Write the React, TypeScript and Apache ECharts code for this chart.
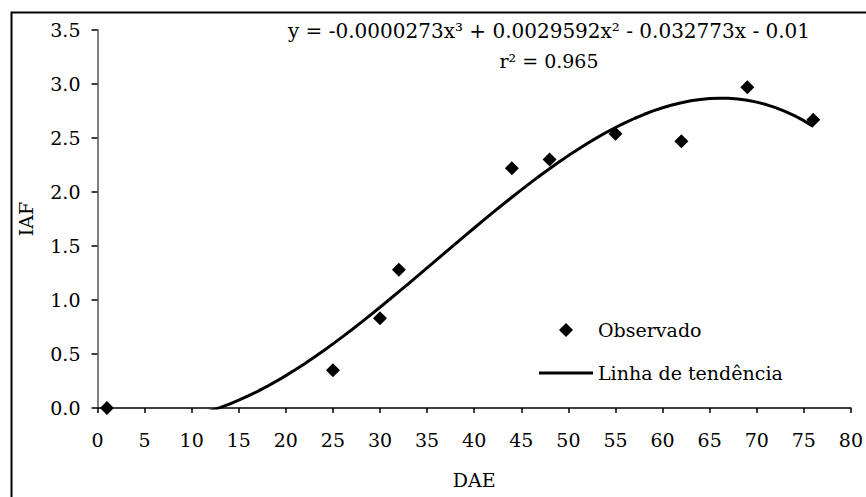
import React, { useEffect, useRef } from "react";
import * as echarts from "echarts";

// Observed leaf area index (IAF) by days after emergence (DAE)
const observedDae = [1, 25, 30, 32, 44, 48, 55, 62, 69, 76];
const observedIaf = [0.0, 0.35, 0.83, 1.28, 2.22, 2.3, 2.54, 2.47, 2.97, 2.67];

// Cubic trend coefficients, highest power first (x³, x², x, constant)
const trendCoefficients = [-0.0000273, 0.0029592, -0.032773, -0.01];
const trendR2 = 0.965;
const trendStart = 1;
const trendEnd = 76;

const xTicks = { min: 0, max: 80, interval: 5 };
const yTicks = { min: 0, max: 3.5, interval: 0.5 };

const FONT = "DejaVu Serif";

function evalTrend(x: number): number {
  return trendCoefficients.reduce((acc, c) => acc * x + c, 0);
}

function trendLabel(): string {
  const powers = ["x³", "x²", "x", ""];
  let s = "y = ";
  trendCoefficients.forEach((c, i) => {
    const abs = String(Math.abs(c));
    if (i === 0) s += (c < 0 ? "-" : "") + abs + powers[i];
    else s += (c < 0 ? " - " : " + ") + abs + powers[i];
  });
  return s;
}

export default function App() {
  const ref = useRef<HTMLDivElement>(null);

  useEffect(() => {
    if (!ref.current) return;
    const chart = echarts.init(ref.current, undefined, { renderer: "svg" });

    const trendData: number[][] = [];
    for (let x = trendStart; x <= trendEnd; x++) trendData.push([x, evalTrend(x)]);

    chart.setOption({
      animation: false,
      backgroundColor: "#ffffff",
      textStyle: { fontFamily: FONT, color: "#000" },
      grid: { left: 97.5, right: 14, top: 30, bottom: 89, containLabel: false },
      xAxis: {
        type: "value",
        min: xTicks.min,
        max: xTicks.max,
        interval: xTicks.interval,
        name: "DAE",
        nameLocation: "middle",
        nameGap: 62,
        nameTextStyle: { fontFamily: FONT, fontSize: 19, color: "#000" },
        axisLine: { show: true, onZero: false, lineStyle: { color: "#000", width: 1.5 } },
        axisTick: { show: true, inside: false, length: 5, lineStyle: { color: "#000", width: 1.5 } },
        axisLabel: { fontFamily: FONT, fontSize: 19, color: "#000", margin: 22, lineHeight: 19 },
        splitLine: { show: false },
      },
      yAxis: {
        type: "value",
        min: yTicks.min,
        max: yTicks.max,
        interval: yTicks.interval,
        name: "IAF",
        nameLocation: "middle",
        nameGap: 62,
        nameTextStyle: { fontFamily: FONT, fontSize: 19, color: "#000" },
        axisLine: { show: true, lineStyle: { color: "#808080", width: 2 } },
        axisTick: { show: true, inside: false, length: 6, lineStyle: { color: "#000", width: 1.5 } },
        axisLabel: {
          fontFamily: FONT,
          fontSize: 19,
          color: "#000",
          margin: 17,
          formatter: (v: number) => v.toFixed(1),
        },
        splitLine: { show: false },
      },
      legend: [
        {
          data: [{ name: "Observado", icon: "diamond" }],
          orient: "vertical",
          left: 559,
          top: 320,
          padding: 0,
          itemWidth: 14,
          itemHeight: 14,
          selectedMode: false,
          itemStyle: { color: "#000", opacity: 1 },
          textStyle: {
            fontFamily: FONT,
            fontSize: 19,
            color: "#000",
            lineHeight: 20,
            padding: [0, 0, 0, 20],
          },
        },
        {
          data: [{ name: "Linha de tendência", icon: "rect" }],
          orient: "vertical",
          left: 539,
          top: 363,
          padding: 0,
          itemWidth: 54,
          itemHeight: 3,
          selectedMode: false,
          itemStyle: { color: "#000" },
          textStyle: { fontFamily: FONT, fontSize: 19, color: "#000", lineHeight: 20 },
        },
      ],
      series: [
        {
          name: "Linha de tendência",
          type: "line",
          data: trendData,
          symbol: "none",
          clip: true,
          lineStyle: { color: "#000", width: 3 },
          itemStyle: { color: "#000" },
          z: 2,
        },
        {
          name: "Observado",
          type: "scatter",
          data: observedDae.map((d, i) => [d, observedIaf[i]]),
          symbol: "diamond",
          symbolSize: 14,
          itemStyle: { color: "#000", opacity: 1 },
          z: 3,
        },
      ],
      graphic: [
        {
          type: "rect",
          left: 9,
          top: 10,
          shape: { width: 900, height: 600 },
          style: { fill: "none", stroke: "#000", lineWidth: 2 },
          silent: true,
        },
        {
          type: "text",
          x: 549,
          y: 31,
          style: {
            text: trendLabel(),
            fontFamily: FONT,
            fontSize: 20,
            fill: "#000",
            align: "center",
            verticalAlign: "middle",
          },
        },
        {
          type: "text",
          x: 549,
          y: 61,
          style: {
            text: "r² = " + trendR2.toFixed(3),
            fontFamily: FONT,
            fontSize: 19,
            fill: "#000",
            align: "center",
            verticalAlign: "middle",
          },
        },
      ],
    });

    return () => chart.dispose();
  }, []);

  return (
    <div
      ref={ref}
      style={{ position: "absolute", left: 0, top: 0, width: 866, height: 497, background: "#fff" }}
    />
  );
}
